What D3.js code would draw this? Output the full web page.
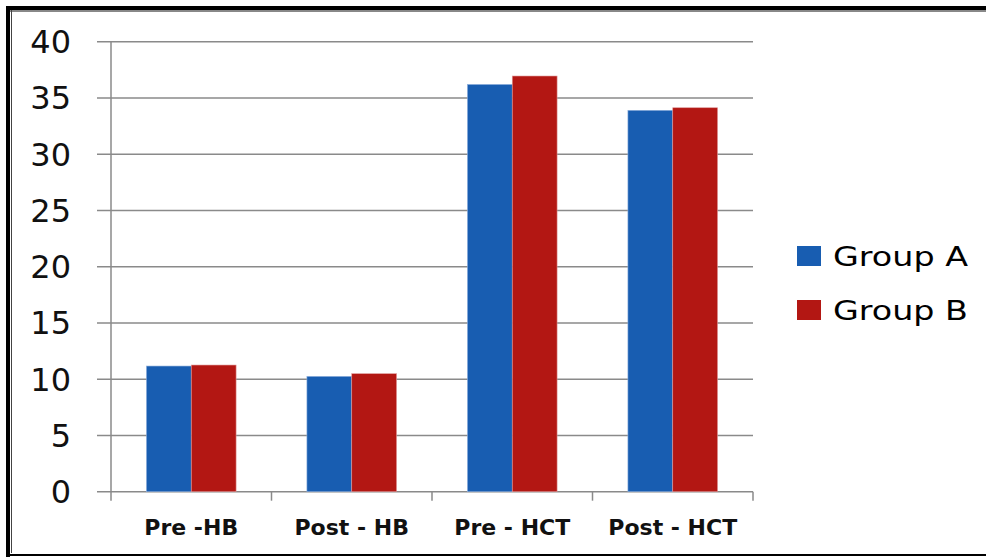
<!DOCTYPE html>
<html><head><meta charset="utf-8">
<script src="https://cdn.jsdelivr.net/npm/d3@7"></script>
<style>html,body{margin:0;padding:0;background:#fff;}svg{display:block;}</style>
</head><body>
<svg id="chart" width="986" height="557"></svg>
<script>
const categories = ["Pre -HB", "Post - HB", "Pre - HCT", "Post - HCT"];
const seriesNames = ["Group A", "Group B"];
const groupA = [11.17, 10.25, 36.2, 33.9];
const groupB = [11.26, 10.49, 36.95, 34.13];
const yTicks = [0, 5, 10, 15, 20, 25, 30, 35, 40];
const colors = ["#185db1", "#b31713"];
const edgeColors = ["#8fb0dc", "#e09a9a"];

const svg = d3.select("#chart");
const series = [groupA, groupB];

// frame
svg.append("rect").attr("x",0).attr("y",0).attr("width",986).attr("height",557).attr("fill","#fff");
svg.append("line").attr("x1",6).attr("x2",986).attr("y1",8).attr("y2",8).attr("stroke","#000").attr("stroke-width",4);
svg.append("line").attr("x1",10).attr("x2",986).attr("y1",11).attr("y2",11).attr("stroke","#888").attr("stroke-width",2);
svg.append("line").attr("x1",8).attr("x2",8).attr("y1",6).attr("y2",557).attr("stroke","#000").attr("stroke-width",4);
svg.append("line").attr("x1",11.5).attr("x2",11.5).attr("y1",10).attr("y2",553).attr("stroke","#444").attr("stroke-width",1);
svg.append("line").attr("x1",6).attr("x2",986).attr("y1",555).attr("y2",555).attr("stroke","#000").attr("stroke-width",2);

const x0 = d3.scaleBand().domain(categories).range([111, 753]).paddingInner(0).paddingOuter(0);
const x1 = d3.scaleBand().domain(seriesNames).range([0, x0.bandwidth()]).paddingInner(0).paddingOuter(0.79);
const y = d3.scaleLinear().domain([0, 40]).range([491.7, 41.7]);

// gridlines
svg.append("g").selectAll("line").data(yTicks).join("line")
  .attr("x1", 97).attr("x2", 753)
  .attr("y1", d => y(d)).attr("y2", d => y(d))
  .attr("stroke", "#8a8a8a").attr("stroke-width", 1.5);

// y axis line
svg.append("line").attr("x1",111).attr("x2",111).attr("y1",y(40)).attr("y2",y(0)).attr("stroke","#8a8a8a").attr("stroke-width",1.5);

// category ticks
const bounds = categories.map(c => x0(c)).concat([x0.range()[1]]);
svg.append("g").selectAll("line").data(bounds).join("line")
  .attr("x1", d => d).attr("x2", d => d)
  .attr("y1", y(0)).attr("y2", y(0) + 9)
  .attr("stroke", "#8a8a8a").attr("stroke-width", 1.5);

// y tick labels
svg.append("g").selectAll("text").data(yTicks).join("text")
  .attr("x", 71).attr("y", d => y(d))
  .attr("dy", "0.36em")
  .attr("text-anchor", "end")
  .attr("font-family", "DejaVu Sans")
  .attr("font-size", 32)
  .attr("fill", "#111")
  .text(d => d);

// bars
seriesNames.forEach((s, si) => {
  svg.append("g").selectAll("rect").data(categories).join("rect")
    .attr("x", c => x0(c) + x1(s))
    .attr("y", (c, i) => y(series[si][i]))
    .attr("width", x1.bandwidth())
    .attr("height", (c, i) => y(0) - y(series[si][i]))
    .attr("fill", colors[si])
    .attr("stroke", edgeColors[si])
    .attr("stroke-width", 0.6);
});

// category labels
svg.append("g").selectAll("text").data(categories).join("text")
  .attr("x", c => x0(c) + x0.bandwidth() / 2)
  .attr("y", 535)
  .attr("text-anchor", "middle")
  .attr("font-family", "DejaVu Sans")
  .attr("font-weight", "bold")
  .attr("font-size", 22)
  .attr("fill", "#111")
  .text(c => c);

// legend
const legend = svg.append("g");
seriesNames.forEach((s, i) => {
  legend.append("rect").attr("x", 797).attr("y", 246 + i * 54).attr("width", 24).attr("height", 20).attr("fill", colors[i]);
  legend.append("text").attr("x", 833).attr("y", 266 + i * 54)
    .attr("font-family", "DejaVu Sans").attr("font-size", 26)
    .attr("textLength", 135).attr("lengthAdjust", "spacingAndGlyphs")
    .attr("fill", "#000").text(s);
});
</script>
</body></html>
